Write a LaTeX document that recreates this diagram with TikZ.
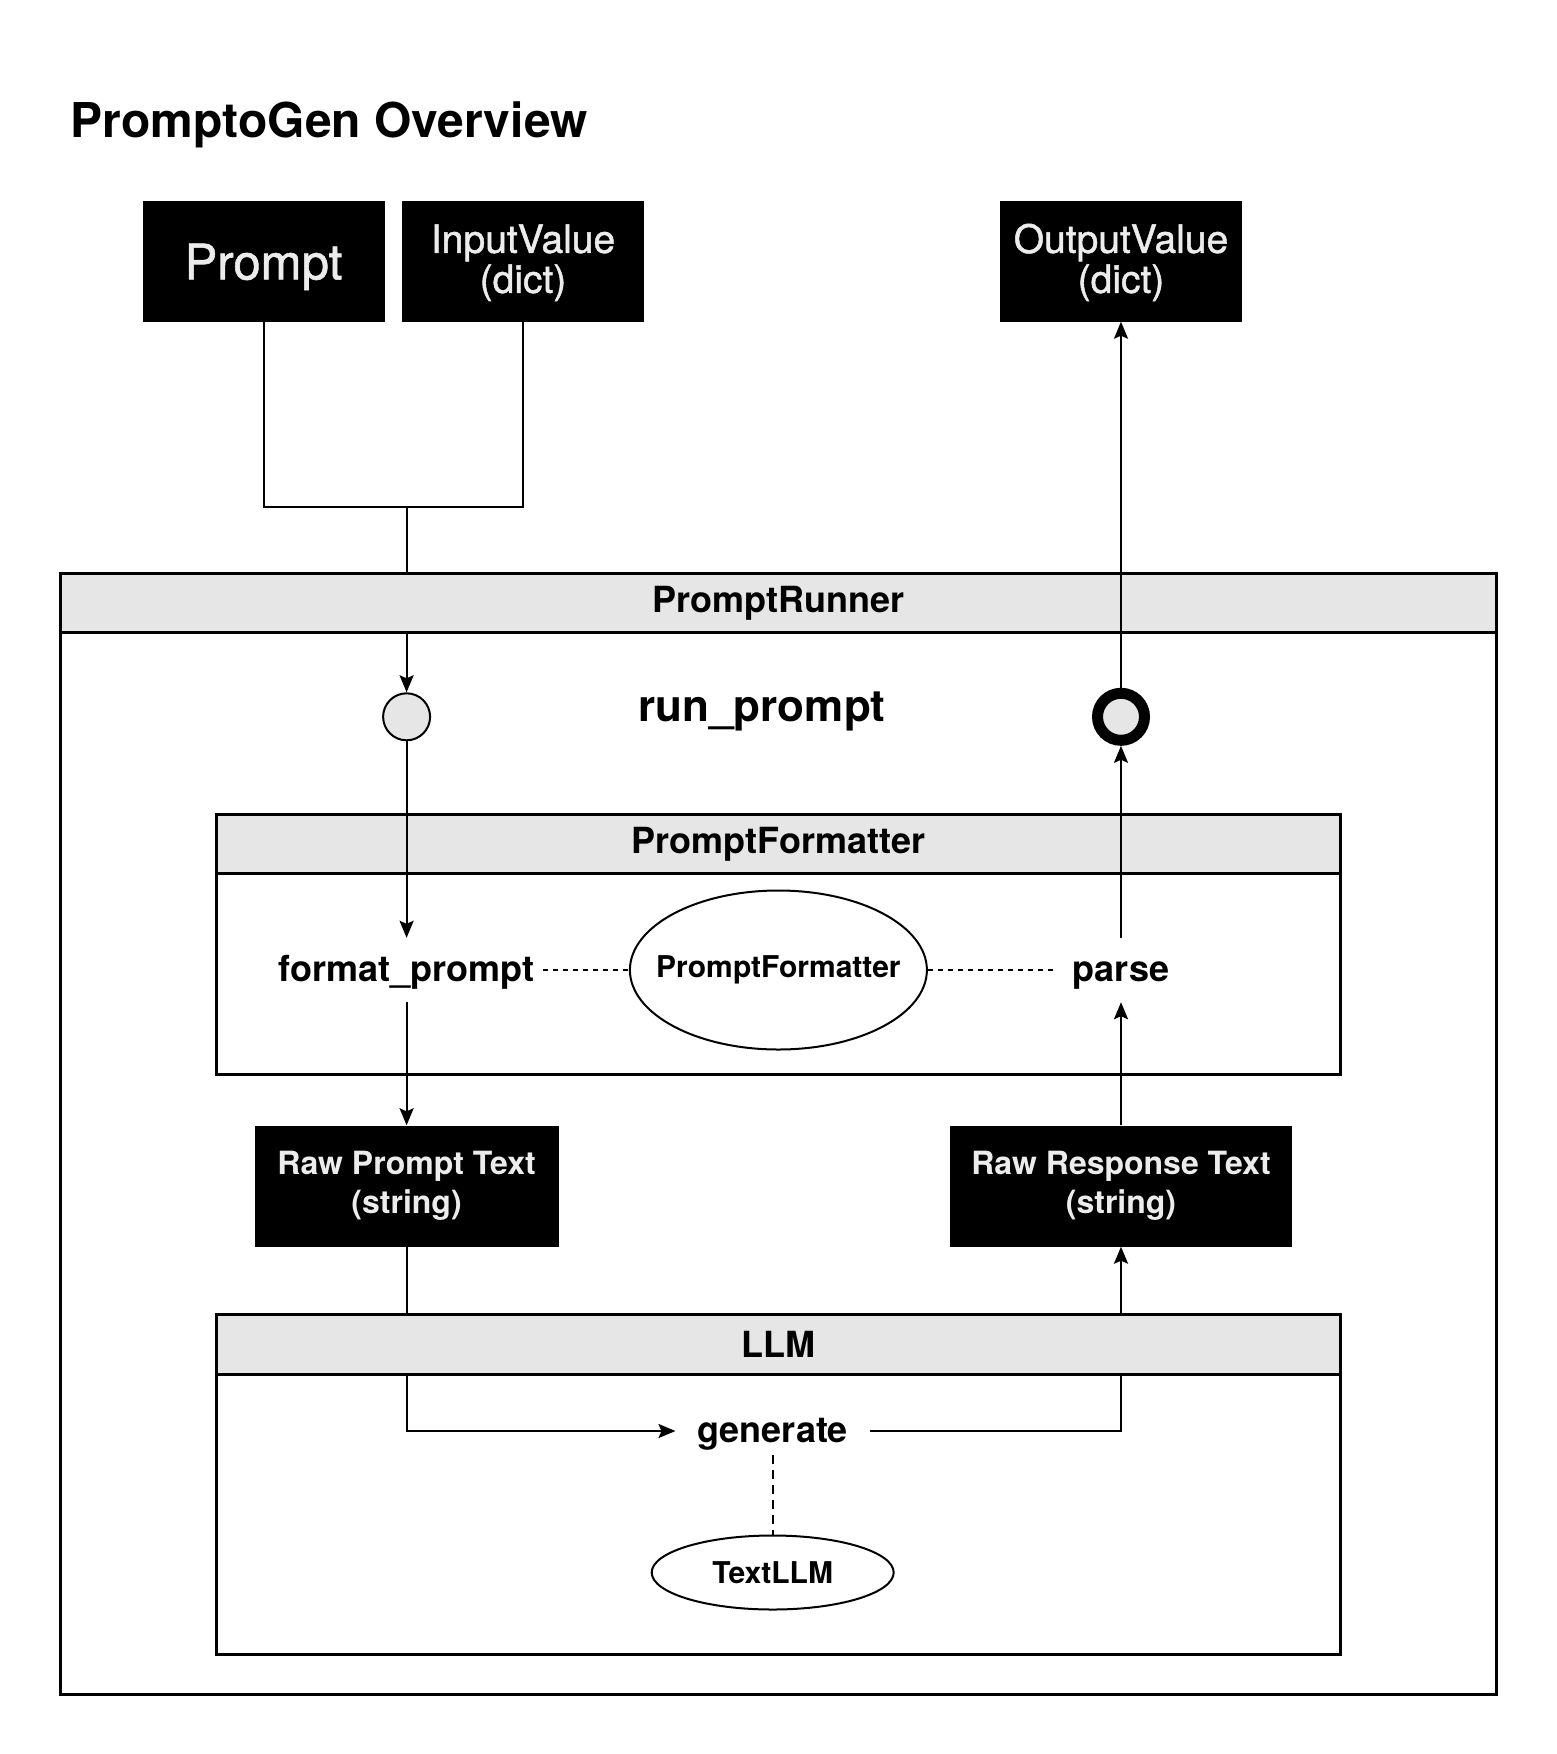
\documentclass[tikz,border=0pt]{standalone}
\usepackage{fontspec}
\setmainfont{TeX Gyre Heros}
\newfontfamily\medfont[FakeBold=1.2]{TeX Gyre Heros}
\usetikzlibrary{arrows.meta,shapes.geometric}
\definecolor{hdr}{RGB}{230,230,230}
\definecolor{boxtxt}{RGB}{236,236,236}
\begin{document}
\begin{tikzpicture}[x=1pt,y=-1pt,
  darkbox/.style={fill=black,draw=none,text=boxtxt,align=center,inner sep=0pt},
  cont/.style={draw=black,line width=3pt,inner sep=0pt},
  hdrbox/.style={draw=black,fill=hdr,line width=3pt,inner sep=0pt,font=\bfseries\fontsize{36}{43}\selectfont},
  lbl/.style={font=\bfseries\fontsize{36}{43}\selectfont,inner ysep=0pt},
  conn/.style={line width=2pt},
  arr/.style={line width=2pt,-{Stealth[length=17pt,width=14pt,inset=3pt]}},
  dots/.style={line width=2pt,dash pattern=on 5pt off 5pt},
  dashl/.style={line width=2pt,dash pattern=on 9pt off 6pt},
  oval/.style={ellipse,draw=black,line width=2pt,inner sep=0pt,font=\bfseries\fontsize{30}{36}\selectfont}
]
\useasboundingbox (0,0) rectangle (1556,1754);

% title
\node[anchor=base west,inner sep=0pt,font=\bfseries\fontsize{48}{58}\selectfont] (title) at (70.6,137) {PromptoGen Overview};

% top boxes
\node[darkbox,minimum width=242pt,minimum height=121pt,text height=47pt,text depth=10.3pt,font=\medfont\fontsize{49}{56}\selectfont] (prompt) at (263.5,261) {Prompt};
\node[darkbox,minimum width=242pt,minimum height=121pt,font=\medfont\fontsize{39}{40}\selectfont] (inputvalue) at (523,261) {\rule{0pt}{32pt}InputValue\\(dict)};
\node[darkbox,minimum width=242pt,minimum height=121pt,font=\medfont\fontsize{39}{40}\selectfont] (outputvalue) at (1121,261) {\rule{0pt}{32pt}OutputValue\\(dict)};

% containers
\node[cont,minimum width=1436pt,minimum height=1121pt] (runner) at (778.4,1134) {};
\node[cont,minimum width=1124.6pt,minimum height=260pt] (pf) at (778.4,944) {};
\node[cont,minimum width=1124.6pt,minimum height=340pt] (llm) at (778.4,1484) {};
\node[hdrbox,minimum width=1124.6pt,minimum height=59.6pt] (pfhdr) at (778.4,844) {PromptFormatter};

% inner elements
\node[circle,draw=black,fill=hdr,line width=2pt,minimum size=47pt,inner sep=0pt] (start) at (406.6,716.8) {};
\node[circle,draw=black,fill=hdr,line width=11pt,minimum size=47pt,inner sep=0pt] (end) at (1121,716.8) {};
\node[anchor=base,inner sep=0pt,font=\bfseries\fontsize{44}{52}\selectfont] (runprompt) at (762,721) {run\_prompt};

\node[lbl,anchor=base,inner xsep=8pt,text height=43pt,text depth=21pt] (fmt) at (406.6,981) {format\_prompt};
\node[oval,minimum width=297pt,minimum height=159pt] (pfell) at (778.4,970) {\makebox[0pt]{PromptFormatter}};
\node[lbl,anchor=base,inner xsep=20pt,text height=43pt,text depth=21pt] (parse) at (1121,981) {parse};

\node[darkbox,minimum width=304pt,minimum height=121pt,font=\bfseries\fontsize{32}{39}\selectfont] (rawprompt) at (406.6,1186) {Raw Prompt Text\\(string)};
\node[darkbox,minimum width=342.5pt,minimum height=121pt,font=\bfseries\fontsize{32}{39}\selectfont] (rawresp) at (1121,1186) {Raw Response Text\\(string)};

\node[lbl,anchor=base,inner xsep=21.8pt,text height=35pt,text depth=13pt] (generate) at (772.7,1442) {generate};
\node[oval,minimum width=242pt,minimum height=74pt] (textllm) at (772.7,1572.5) {\makebox[0pt]{TextLLM}};

% input connectors (hidden behind the runner header)
\coordinate (jn) at (406.6,507.4);
\draw[conn] (prompt.south) |- (jn) -| (inputvalue.south);
\draw[arr] (jn) -- (start.north);
\node[hdrbox,minimum width=1436pt,minimum height=59.4pt] (runhdr) at (778.4,603.1) {PromptRunner};

% LLM connectors (hidden behind the LLM header)
\draw[arr] (rawprompt.south) |- (generate.west);
\draw[arr] (generate.east) -| (rawresp.south);
\node[hdrbox,minimum width=1124.6pt,minimum height=60pt] (llmhdr) at (778.4,1344) {LLM};

% remaining connectors
\draw[arr] (start.south) -- (fmt.north);
\draw[arr] (fmt.south) -- (rawprompt.north);
\draw[arr] (rawresp.north) -- (parse.south);
\draw[arr] (parse.north) -- (end.south);
\draw[arr] (end.north) -- (outputvalue.south);
\draw[dots] (fmt.east) -- (pfell.west);
\draw[dots] (pfell.east) -- (parse.west);
\draw[dashl] (generate.south) -- (textllm.north);
\end{tikzpicture}
\end{document}
